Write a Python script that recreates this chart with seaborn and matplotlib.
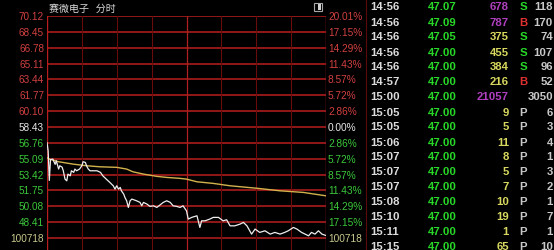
import matplotlib
matplotlib.use("Agg")
import matplotlib.pyplot as plt
import seaborn as sns
import pandas as pd
from matplotlib.patches import Rectangle

# ---------------- data ----------------
title_name = "赛微电子   分时"

grid_prices = [70.12, 68.45, 66.78, 65.11, 63.44, 61.77, 60.10, 58.43,
               56.76, 55.09, 53.42, 51.75, 50.08, 48.41, 46.74]
left_labels = ["70.12", "68.45", "66.78", "65.11", "63.44", "61.77", "60.10", "58.43",
               "56.76", "55.09", "53.42", "51.75", "50.08", "48.41", "100718"]
right_labels = ["20.01%", "17.15%", "14.29%", "11.43%", "8.57%", "5.72%", "2.86%", "0.00%",
                "2.86%", "5.72%", "8.57%", "11.43%", "14.29%", "17.15%", "100718"]

price_min = [0, 1, 2, 3, 5, 7, 8, 10, 11, 13,
             14, 15.5, 17, 18, 20, 21, 23, 24, 25.5, 28,
             30, 31, 33, 34, 35.5, 37, 43, 46, 48, 51,
             54, 57, 58.5, 60, 61.5, 63, 64, 66, 67, 68.5,
             70, 71.5, 73, 77, 80, 81.5, 83, 86, 88.5, 91.5,
             94.5, 97, 100, 103, 106, 108.5, 111.5, 114.5, 117, 120,
             121.5, 124.5, 129, 131.5, 133, 136, 140, 143, 147.5, 151.5,
             154.5, 157.5, 161.5, 166, 169, 172, 176, 179, 183, 187.5,
             192, 196, 200.5, 204.5, 207.5, 212, 215, 219, 225, 227.5,
             230.5, 233.5, 236.5, 240]
price_val = [56.80, 55.90, 52.80, 55.00, 55.05, 54.50, 54.87, 54.00, 54.35, 54.20,
             53.82, 52.94, 52.76, 53.47, 53.29, 53.82, 53.65, 54.00, 53.82, 54.00,
             54.35, 54.77, 54.70, 54.35, 54.00, 53.82, 53.82, 53.65, 53.29, 52.94,
             52.60, 52.24, 51.89, 52.24, 51.89, 52.07, 51.71, 51.36, 51.02, 50.66,
             49.96, 50.66, 50.84, 50.66, 50.49, 50.13, 50.49, 50.31, 50.07, 50.13,
             49.96, 50.20, 50.49, 50.66, 50.49, 50.13, 50.07, 49.96, 50.13, 49.60,
             48.73, 48.91, 49.08, 47.85, 48.55, 48.55, 48.73, 48.91, 48.91, 48.55,
             48.66, 48.02, 48.02, 48.20, 48.38, 48.02, 47.15, 47.68, 47.33, 47.50,
             47.15, 47.33, 47.15, 47.33, 47.50, 47.85, 47.68, 47.33, 46.97, 47.33,
             47.15, 47.50, 47.15, 47.00]

avg_min = [0, 2, 10, 22.5, 34, 45.5, 60, 68.5, 74, 83,
           94.5, 103, 114.5, 120, 129, 143, 157.5, 182, 200.5, 220.5, 240]
avg_val = [55.20, 55.05, 54.77, 54.52, 54.35, 54.24, 54.18, 54.00, 53.71, 53.47,
           53.23, 53.12, 53.02, 52.94, 52.66, 52.49, 52.24, 51.96, 51.71, 51.54, 51.18]

tick_times = ["14:56", "14:56", "14:56", "14:56", "14:56", "14:57", "15:00", "15:05", "15:05",
              "15:06", "15:07", "15:07", "15:07", "15:08", "15:10", "15:11", "15:15"]
tick_prices = ["47.07", "47.09", "47.05", "47.00", "47.00", "47.00", "47.00", "47.00", "47.00",
               "47.00", "47.00", "47.00", "47.00", "47.00", "47.00", "47.00", "47.00"]
tick_vols = [678, 787, 375, 455, 384, 216, 21057, 9, 5, 11, 8, 5, 7, 10, 19, 1, 65]
tick_sides = ["S", "B", "S", "S", "S", "B", "", "P", "P", "P", "P", "P", "P", "P", "P", "P", "P"]
tick_counts = [118, 170, 74, 107, 96, 52, 3050, 6, 3, 4, 1, 3, 2, 1, 7, 1, 10]

# ---------------- figure ----------------
sns.set_style("dark")
plt.rcParams["font.family"] = ["Liberation Sans", "Noto Sans CJK SC", "DejaVu Sans"]

W, H = 554, 251
fig = plt.figure(figsize=(W / 100, H / 100), dpi=100, facecolor="black")

px_per_unit = (239 - 17) / (70.12 - 46.74)
ax_left, ax_right, ax_top = 47, 326, 17
ax = fig.add_axes([ax_left / W, 0, (ax_right - ax_left) / W, (H - ax_top) / H])
ax.set_facecolor("black")
ax.set_xlim(0, 240)
ax.set_ylim(70.12 - (H - ax_top) / px_per_unit, 70.12)
for s in ax.spines.values():
    s.set_visible(False)
ax.set_xticks([])
ax.set_yticks([])
ax.grid(False)

# grid
for p in grid_prices:
    ax.axhline(p, color="#b81e1e", lw=1.1, zorder=1)
for m in [30, 60, 90, 150, 180, 210]:
    ax.axvline(m, color="#6a0c0c", lw=0.8, zorder=1)
ax.axvline(120, color="#b02020", lw=0.9, zorder=1)
ax.axvline(0, color="#b81e1e", lw=1.0, zorder=1)
ax.axvline(240, color="#b81e1e", lw=1.0, zorder=1)

# lines
df_price = pd.DataFrame({"minute": price_min, "price": price_val})
df_avg = pd.DataFrame({"minute": avg_min, "price": avg_val})
sns.lineplot(data=df_avg, x="minute", y="price", ax=ax, color="#d2b24c", lw=1.0,
             estimator=None, sort=False, zorder=3)
sns.lineplot(data=df_price, x="minute", y="price", ax=ax, color="#eeeeee", lw=0.9,
             estimator=None, sort=False, zorder=4)
ax.set_xlabel("")
ax.set_ylabel("")

# axis labels
def lab_color(i):
    if i < 7:
        return "#d24040"
    if i == 7:
        return "#e8e8e8"
    if i < 14:
        return "#3cc83c"
    return "#c8c88c"

ytr = ax.get_yaxis_transform()
for i, (p, l, r) in enumerate(zip(grid_prices, left_labels, right_labels)):
    c = lab_color(i)
    ax.text(-3 / 279, p, l, transform=ytr, ha="right", va="center", color=c,
            fontsize=7.2, clip_on=False)
    ax.text(1 + 2 / 279, p, r, transform=ytr, ha="left", va="center", color=c,
            fontsize=7.3, clip_on=False)

# title
fig.text(49 / W, 1 - 8.5 / H, title_name, ha="left", va="center", color="#d8d8d8",
         fontsize=7.2, family=["Noto Sans CJK SC", "DejaVu Sans"])
# small icon
fig.patches.append(Rectangle((314 / W, 1 - 12 / H), 8 / W, 8 / H, transform=fig.transFigure,
                             facecolor="black", edgecolor="#a8a8a8", lw=0.8))
fig.patches.append(Rectangle((318 / W, 1 - 11 / H), 3 / W, 6 / H, transform=fig.transFigure,
                             facecolor="#d0d0d0", edgecolor="none"))

# separator
fig.add_artist(plt.Line2D([366 / W, 366 / W], [0, 1], transform=fig.transFigure,
                          color="#5a0a0a", lw=0.8))

# tick table
for i in range(len(tick_times)):
    y = 1 - (7.5 + 15.0 * i) / H
    fs = 8.2
    fig.text(370 / W, y, tick_times[i], ha="left", va="center", color="#dcdcdc",
             fontsize=fs, fontweight="bold")
    fig.text(428 / W, y, tick_prices[i], ha="left", va="center", color="#28d828",
             fontsize=fs, fontweight="bold")
    vc = "#b040c0" if tick_vols[i] >= 500 else "#d8d860"
    fig.text(509 / W, y, str(tick_vols[i]), ha="right", va="center", color=vc,
             fontsize=fs, fontweight="bold")
    sd = tick_sides[i]
    sc = {"S": "#28d828", "B": "#e03030", "P": "#c8c8c8"}.get(sd, "#c8c8c8")
    fig.text(523 / W, y, sd, ha="center", va="center", color=sc, fontsize=fs,
             fontweight="bold")
    fig.text(553 / W, y, str(tick_counts[i]), ha="right", va="center", color="#c8c8c8",
             fontsize=fs, fontweight="bold")

fig.savefig("out.png", dpi=100, facecolor="black")
